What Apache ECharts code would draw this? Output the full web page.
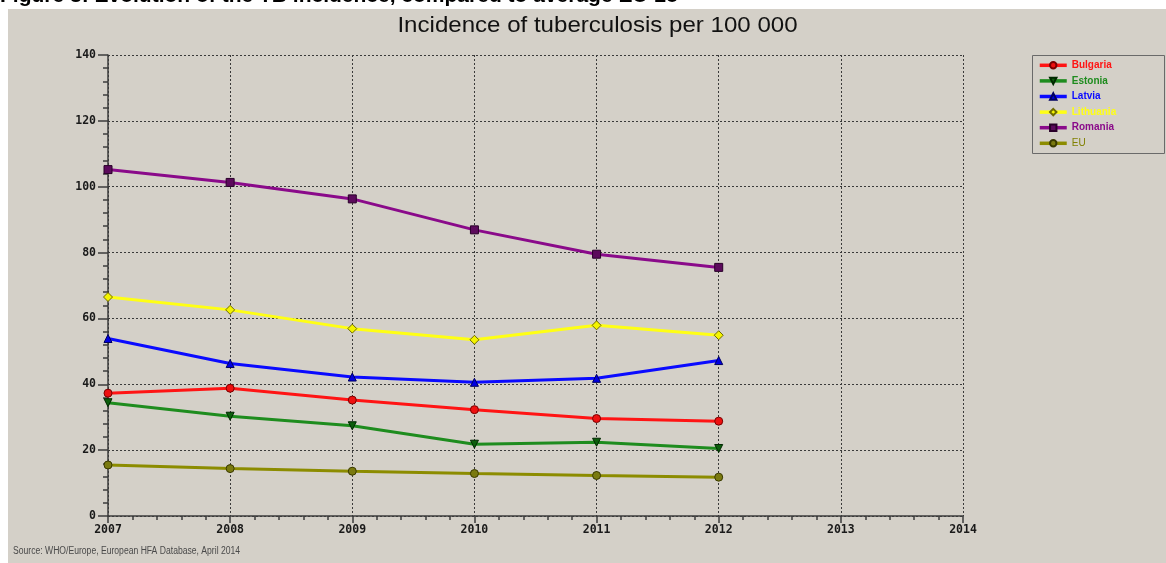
<!DOCTYPE html>
<html>
<head>
<meta charset="utf-8">
<script src="https://cdn.jsdelivr.net/npm/echarts@6/dist/echarts.min.js"></script>
<style>
html,body{margin:0;padding:0;background:#ffffff;}
#chart{width:1166px;height:563px;}
</style>
</head>
<body>
<div id="chart"></div>
<script>
var years = [2007, 2008, 2009, 2010, 2011, 2012];
var seriesNames = ['Bulgaria', 'Estonia', 'Latvia', 'Lithuania', 'Romania', 'EU'];
var bulgaria = [37.3, 38.8, 35.2, 32.3, 29.6, 28.8];
var estonia = [34.4, 30.3, 27.4, 21.8, 22.4, 20.5];
var latvia = [53.9, 46.3, 42.2, 40.6, 41.8, 47.2];
var lithuania = [66.5, 62.6, 56.9, 53.5, 57.9, 54.9];
var romania = [105.2, 101.3, 96.3, 86.9, 79.5, 75.5];
var eu = [15.5, 14.4, 13.6, 12.9, 12.3, 11.8];
var xTicks = [2007, 2008, 2009, 2010, 2011, 2012, 2013, 2014];
var yTicks = [0, 20, 40, 60, 80, 100, 120, 140];
var chartTitle = 'Incidence of tuberculosis per 100 000';
var heading = 'Figure 3: Evolution of the TB incidence, compared to average EU-28';
var sourceText = 'Source: WHO/Europe, European HFA Database, April 2014';

var values = [bulgaria, estonia, latvia, lithuania, romania, eu];
var styles = [
  {line: '#ff1414', fill: '#ee1010', border: '#7a0000', symbol: 'circle', rotate: 0, text: '#ff1414', weight: 'bold'},
  {line: '#1e8c1e', fill: '#0d5e0d', border: '#002800', symbol: 'triangle', rotate: 180, text: '#1e8c1e', weight: 'bold'},
  {line: '#0a0aff', fill: '#0000e0', border: '#000060', symbol: 'triangle', rotate: 0, text: '#0a0aff', weight: 'bold'},
  {line: '#ffff14', fill: '#f4f400', border: '#6e6a00', symbol: 'diamond', rotate: 0, text: '#ffff14', weight: 'bold'},
  {line: '#8a0a8a', fill: '#5c0a5c', border: '#2a002a', symbol: 'rect', rotate: 0, text: '#8a0a8a', weight: 'bold'},
  {line: '#8c8c00', fill: '#7a7a10', border: '#3a3a00', symbol: 'circle', rotate: 0, text: '#808000', weight: 'normal'}
];

var series = seriesNames.map(function (name, i) {
  var st = styles[i];
  return {
    name: name,
    type: 'line',
    data: years.map(function (y, j) { return [y, values[i][j]]; }),
    symbol: st.symbol,
    symbolRotate: st.rotate,
    symbolSize: st.symbol === 'diamond' ? 9 : 8,
    showAllSymbol: true,
    lineStyle: {color: st.line, width: 3},
    itemStyle: {color: st.fill, borderColor: st.border, borderWidth: 1},
    emphasis: {disabled: true},
    z: 3
  };
});

var chart = echarts.init(document.getElementById('chart'), null, {renderer: 'canvas'});
chart.setOption({
  animation: false,
  backgroundColor: '#ffffff',
  legend: {
    orient: 'vertical',
    left: 1038,
    top: 59.5,
    padding: 0,
    itemWidth: 27,
    itemHeight: 8,
    itemGap: 4,
    selectedMode: false,
    lineStyle: {width: 3.5},
    textStyle: {fontFamily: 'Liberation Sans', fontSize: 10, fontWeight: 'bold', lineHeight: 11.6},
    data: seriesNames.map(function (n, i) {
      return {name: n, textStyle: {color: styles[i].text, fontWeight: styles[i].weight}};
    })
  },
  graphic: [
    {type: 'rect', z: -10, silent: true, shape: {x: 8, y: 9, width: 1158, height: 554}, style: {fill: '#d4d0c8'}},
    {type: 'rect', z: -5, silent: true, shape: {x: 1032.5, y: 55.5, width: 132, height: 98}, style: {fill: 'none', stroke: '#6a6a6a', lineWidth: 1}},
    {type: 'text', z: 10, silent: true, x: 0, y: -14, style: {text: heading, font: 'bold 21px "Liberation Sans"', fill: '#000000', textVerticalAlign: 'top'}},
    {type: 'text', z: 10, silent: true, x: 597.5, y: 14, scaleX: 1.07, style: {text: chartTitle, font: '22.5px "Liberation Sans"', fill: '#111111', textAlign: 'center', textVerticalAlign: 'top'}},
    {type: 'text', z: 10, silent: true, x: 13, y: 546, scaleX: 0.86, style: {text: sourceText, font: '10px "Liberation Sans"', fill: '#4a4a4a', textVerticalAlign: 'top'}}
  ],
  grid: {left: 108, right: 203, top: 55, bottom: 47, containLabel: false},
  xAxis: {
    type: 'value',
    min: xTicks[0],
    max: xTicks[xTicks.length - 1],
    interval: 1,
    axisLine: {show: true, onZero: false, lineStyle: {color: '#3c3c3c', width: 1.5}},
    axisTick: {show: true, length: 7, lineStyle: {color: '#3c3c3c', width: 1.5}},
    minorTick: {show: true, splitNumber: 5, length: 4, lineStyle: {color: '#3c3c3c', width: 1.5}},
    axisLabel: {margin: 8, fontFamily: 'DejaVu Sans Mono', fontWeight: 'bold', fontSize: 11.5, color: '#1a1a1a', formatter: function (v) { return String(v); }},
    splitLine: {show: true, lineStyle: {color: '#3a3a3a', type: [2, 2], width: 1}}
  },
  yAxis: {
    type: 'value',
    min: yTicks[0],
    max: yTicks[yTicks.length - 1],
    interval: 20,
    axisLine: {show: true, lineStyle: {color: '#3c3c3c', width: 1.5}},
    axisTick: {show: true, length: 10, lineStyle: {color: '#3c3c3c', width: 1.5}},
    minorTick: {show: true, splitNumber: 5, length: 5, lineStyle: {color: '#3c3c3c', width: 1.5}},
    axisLabel: {margin: 12, fontFamily: 'DejaVu Sans Mono', fontWeight: 'bold', fontSize: 11.5, color: '#1a1a1a'},
    splitLine: {show: true, lineStyle: {color: '#3a3a3a', type: [2, 2], width: 1}}
  },
  series: series
});
</script>
</body>
</html>
